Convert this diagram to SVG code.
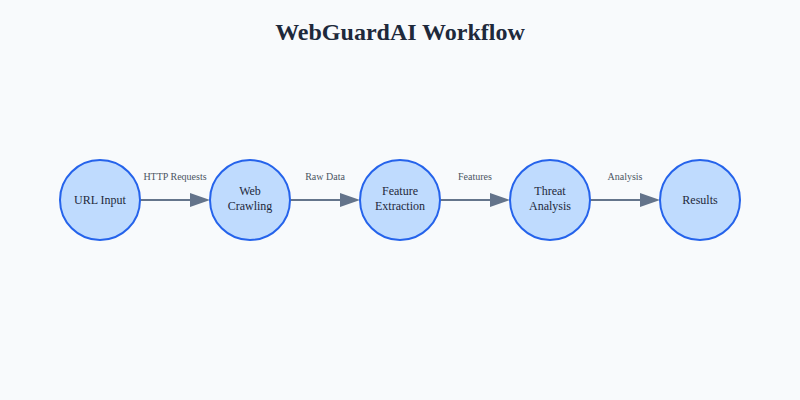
<svg xmlns="http://www.w3.org/2000/svg" width="800" height="400" viewBox="0 0 800 400">
<style>
.node circle{fill:#bfdbfe;stroke:#2563eb;stroke-width:2}
.node text{font-family:"Liberation Serif",serif;font-size:12px;fill:#1e293b;text-anchor:middle}
.conn line{stroke:#64748b;stroke-width:2}
.lbl{font-family:"Liberation Serif",serif;font-size:10px;fill:#4b5563;text-anchor:middle}
</style>
<defs>
<marker id="ah" markerWidth="10" markerHeight="7" refX="0" refY="3.5" orient="auto" markerUnits="strokeWidth">
<polygon points="0 0, 10 3.5, 0 7" fill="#64748b"/>
</marker>
</defs>
<rect width="800" height="400" fill="#f8fafc"/>
<text x="400" y="40" text-anchor="middle" font-family="'Liberation Serif',serif" font-size="24" font-weight="bold" fill="#1e293b">WebGuardAI Workflow</text>
<g id="connectors" class="conn">
<line x1="140" y1="200" x2="190" y2="200" marker-end="url(#ah)"/>
<line x1="290" y1="200" x2="340" y2="200" marker-end="url(#ah)"/>
<line x1="440" y1="200" x2="490" y2="200" marker-end="url(#ah)"/>
<line x1="590" y1="200" x2="640" y2="200" marker-end="url(#ah)"/>
<text class="lbl" x="175" y="180">HTTP Requests</text>
<text class="lbl" x="325" y="180">Raw Data</text>
<text class="lbl" x="475" y="180">Features</text>
<text class="lbl" x="625" y="180">Analysis</text>
</g>
<g id="url-input" class="node"><circle cx="100" cy="200" r="40"/><text x="100" y="204">URL Input</text></g>
<g id="web-crawling" class="node"><circle cx="250" cy="200" r="40"/><text x="250" y="195">Web</text><text x="250" y="210">Crawling</text></g>
<g id="feature-extraction" class="node"><circle cx="400" cy="200" r="40"/><text x="400" y="195">Feature</text><text x="400" y="210">Extraction</text></g>
<g id="threat-analysis" class="node"><circle cx="550" cy="200" r="40"/><text x="550" y="195">Threat</text><text x="550" y="210">Analysis</text></g>
<g id="results" class="node"><circle cx="700" cy="200" r="40"/><text x="700" y="204">Results</text></g>
</svg>
